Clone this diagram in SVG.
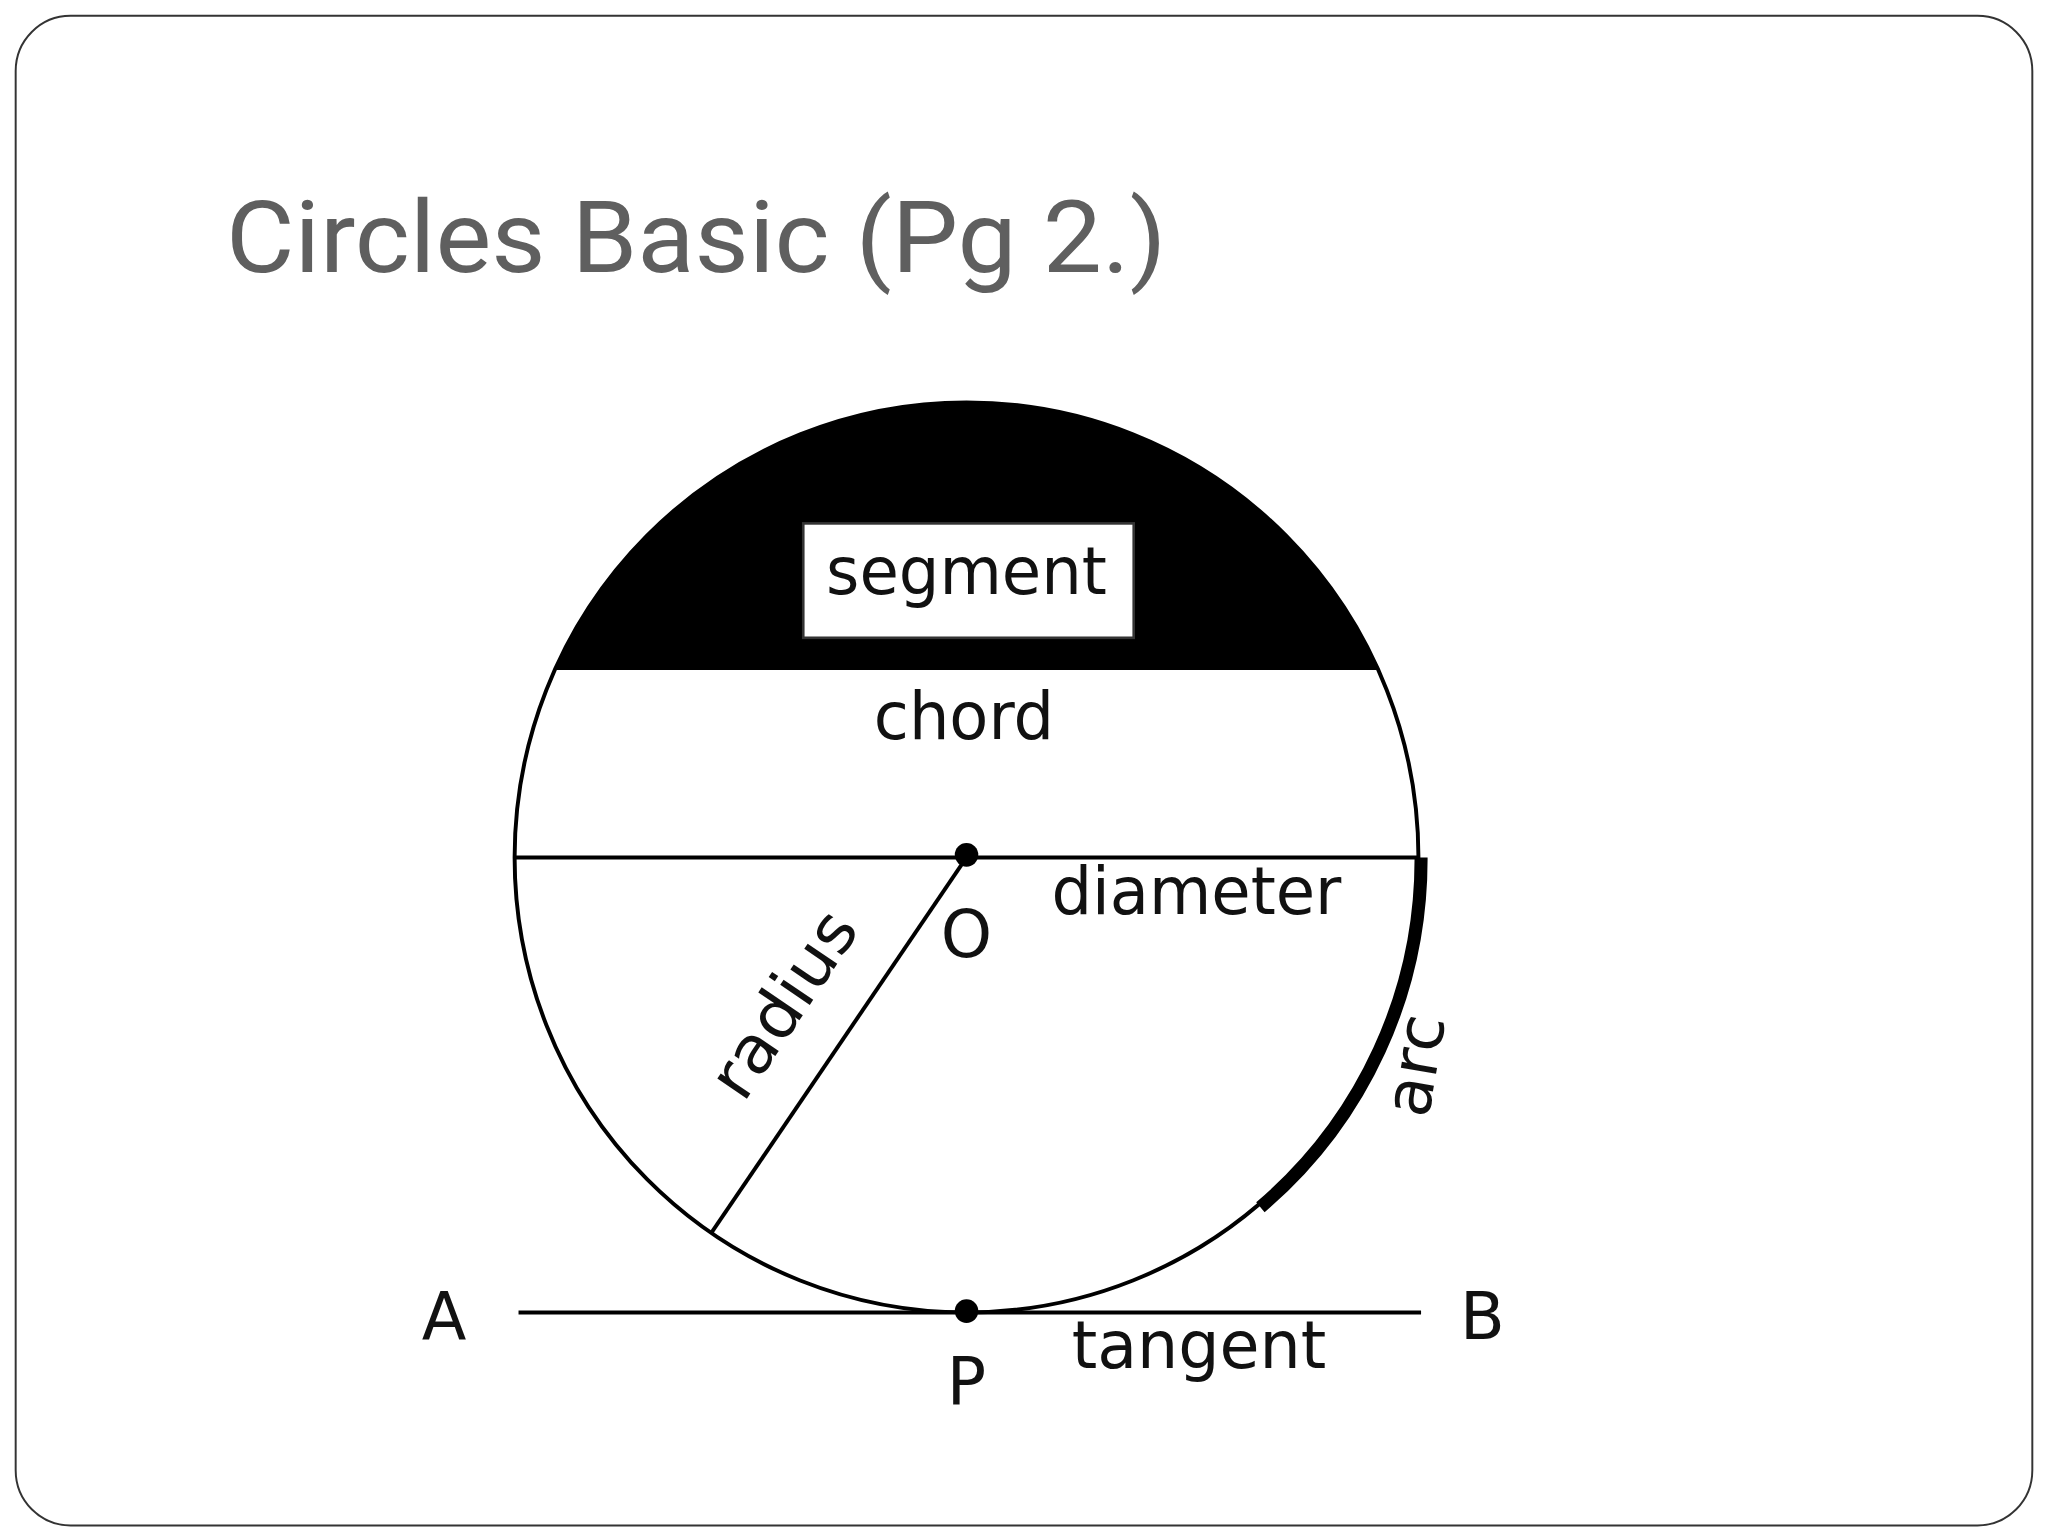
<svg xmlns="http://www.w3.org/2000/svg" width="2048" height="1536" viewBox="0 0 2048 1536">
<style>
.lbl{font-family:"DejaVu Sans","Liberation Sans",sans-serif;font-size:50px;fill:#111;text-anchor:middle}
.ln{stroke:#000;stroke-width:3;fill:none}
</style>
<rect width="2048" height="1536" fill="#fff"/>
<g transform="scale(1.30612,1.31507)">
<rect x="12" y="12" width="1544" height="1148" rx="42" fill="#fff" stroke="#333" stroke-width="1.5"/>
<text id="title" x="173" y="207" font-family="Roboto,'Liberation Sans',sans-serif" font-size="76" fill="#5f5f5f" textLength="720" lengthAdjust="spacingAndGlyphs">Circles Basic (Pg 2.)</text>
<g id="segment">
<path d="M426,508 A346,346 0 0 1 1055,508 Z" fill="#000"/>
<rect x="615" y="398" width="253" height="87" fill="#fff" stroke="#333" stroke-width="2"/>
<text class="lbl" x="740" y="452" textLength="215" lengthAdjust="spacingAndGlyphs">segment</text>
</g>
<g id="circle"><circle cx="740" cy="652" r="346" class="ln"/></g>
<g id="connectors">
<line x1="426" y1="508" x2="1055" y2="508" class="ln"/>
<line x1="395" y1="652" x2="1086" y2="652" class="ln"/>
<line x1="740" y1="652" x2="545" y2="937" class="ln"/>
<line x1="397" y1="998" x2="1088" y2="998" class="ln"/>
<path d="M1088,652 A346,346 0 0 1 965,918" stroke="#000" stroke-width="10" fill="none"/>
</g>
<g id="points">
<circle cx="740" cy="650" r="9" fill="#000"/>
<circle cx="740" cy="997" r="9" fill="#000"/>
</g>
<g id="labels">
<text class="lbl" x="738" y="562" textLength="138" lengthAdjust="spacingAndGlyphs">chord</text>
<text class="lbl" x="916" y="695" textLength="222" lengthAdjust="spacingAndGlyphs">diameter</text>
<text class="lbl" x="740" y="728">O</text>
<text class="lbl" transform="translate(614,773) rotate(-56)" textLength="160" lengthAdjust="spacingAndGlyphs">radius</text>
<text class="lbl" transform="translate(1100,813) rotate(-80)">arc</text>
<text class="lbl" x="340" y="1018">A</text>
<text class="lbl" x="1135" y="1018">B</text>
<text class="lbl" x="740" y="1068">P</text>
<text class="lbl" x="918" y="1040" textLength="195" lengthAdjust="spacingAndGlyphs">tangent</text>
</g>
</g>
</svg>
